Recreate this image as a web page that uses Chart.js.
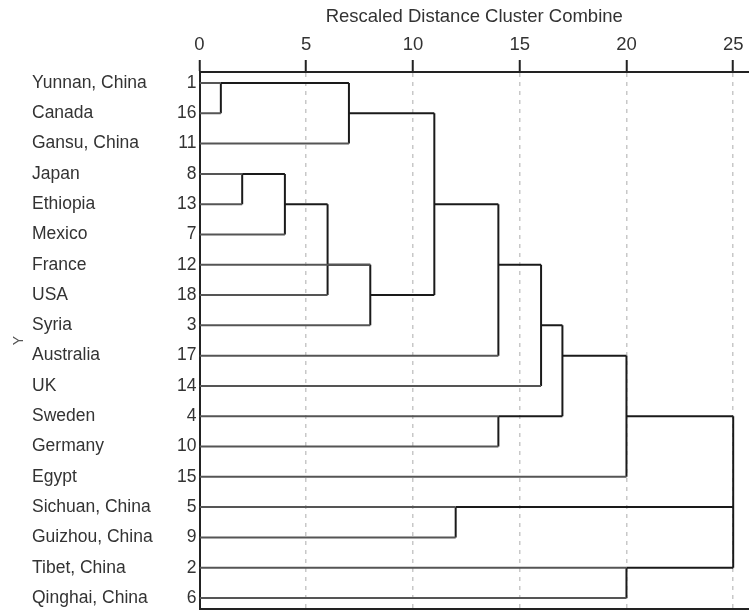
<!DOCTYPE html>
<html>
<head>
<meta charset="utf-8">
<title>Dendrogram</title>
<script src="https://cdn.jsdelivr.net/npm/chart.js@4"></script>
<style>
  html, body { margin: 0; padding: 0; background: #fff; }
  #wrap { width: 749px; height: 611px; position: relative; }
</style>
</head>
<body>
<div id="wrap"><canvas id="chart"></canvas></div>
<script>
// Leaves, top to bottom
const leafIds = ['1', '16', '11', '8', '13', '7', '12', '18', '3', '17', '14', '4', '10', '15', '5', '9', '2', '6'];
const leafNames = ['Yunnan, China', 'Canada', 'Gansu, China', 'Japan', 'Ethiopia', 'Mexico', 'France', 'USA', 'Syria',
  'Australia', 'UK', 'Sweden', 'Germany', 'Egypt', 'Sichuan, China', 'Guizhou, China', 'Tibet, China', 'Qinghai, China'];

// Merges: rescaled distance, the joined nodes (L = leaf row, M = earlier merge) and the row the new cluster is drawn on
const mergeHeights = [1, 7, 2, 4, 6, 8, 11, 14, 16, 14, 17, 20, 12, 20, 25];
const mergeChildren = [
  ['L0', 'L1'], ['M0', 'L2'], ['L3', 'L4'], ['M2', 'L5'], ['M3', 'L7'], ['M4', 'L6', 'L8'],
  ['M1', 'M5'], ['M6', 'L9'], ['M7', 'L10'], ['L11', 'L12'], ['M8', 'M9'], ['M10', 'L13'],
  ['L14', 'L15'], ['L16', 'L17'], ['M11', 'M12', 'M13']
];
const mergeRows = [0, 1, 3, 4, 6, 7, 4, 6, 8, 11, 9, 11, 14, 16, null];

const xTicks = [0, 5, 10, 15, 20, 25];

const FONT = 'Liberation Sans, Arial, sans-serif';
const TEXT = '#333';

function nodeOf(ref) {
  const i = parseInt(ref.slice(1), 10);
  if (ref[0] === 'L') return { row: i, h: 0, leaf: true };
  return { row: mergeRows[i], h: mergeHeights[i], leaf: false };
}

// Build the link segments from the merge table
const leafSegs = [];
const linkSegs = [];
mergeChildren.forEach((kids, i) => {
  const h = mergeHeights[i];
  const rows = [];
  kids.forEach(ref => {
    const n = nodeOf(ref);
    rows.push(n.row);
    (n.leaf ? leafSegs : linkSegs).push([{ x: n.h, y: n.row }, { x: h, y: n.row }]);
  });
  linkSegs.push([{ x: h, y: Math.min(...rows) }, { x: h, y: Math.max(...rows) }]);
});

function segDataset(seg, color) {
  return {
    data: seg,
    showLine: true,
    borderColor: color,
    borderWidth: 2,
    pointRadius: 0,
    fill: false
  };
}

const datasets = leafSegs.map(s => segDataset(s, '#555'))
  .concat(linkSegs.map(s => segDataset(s, '#1a1a1a')));

const rowMin = -0.363;
const rowMax = 17.363;

// fixed box size, and no extra room reserved for half labels
function fixWidth(w) {
  return s => {
    s.width = w;
    s.paddingTop = 0;
    s.paddingBottom = 0;
  };
}

new Chart(document.getElementById('chart'), {
  type: 'scatter',
  data: { datasets: datasets },
  options: {
    responsive: true,
    maintainAspectRatio: false,
    animation: false,
    layout: { padding: 0 },
    plugins: {
      legend: { display: false },
      tooltip: { enabled: false }
    },
    scales: {
      x: {
        type: 'linear',
        position: 'top',
        min: 0,
        max: 25.74,
        afterBuildTicks: s => { s.ticks = xTicks.map(v => ({ value: v })); },
        afterFit: s => { s.height = 72; s.paddingLeft = 0; s.paddingRight = 0; },
        ticks: {
          font: { family: FONT, size: 18.5 },
          color: TEXT,
          padding: 4
        },
        grid: {
          color: ctx => (ctx.tick && ctx.tick.value === 0) ? 'rgba(0,0,0,0)' : '#c8c8c8',
          lineWidth: 1.5,
          tickLength: 12,
          tickColor: '#222',
          tickWidth: 2
        },
        border: { display: true, color: '#222', width: 2, dash: [4, 5] },
        title: {
          display: true,
          text: 'Rescaled Distance Cluster Combine',
          font: { family: FONT, size: 18.5 },
          color: TEXT,
          padding: { top: 6, bottom: 0 }
        }
      },
      x2: {
        type: 'linear',
        position: 'bottom',
        min: 0,
        max: 25.74,
        afterFit: s => { s.height = 2; s.paddingLeft = 0; s.paddingRight = 0; },
        ticks: { display: false },
        grid: { display: false, drawTicks: false },
        border: { display: true, color: '#222', width: 2 }
      },
      y: {
        type: 'linear',
        position: 'left',
        weight: 1,
        reverse: true,
        min: rowMin,
        max: rowMax,
        afterBuildTicks: s => { s.ticks = leafIds.map((_, i) => ({ value: i })); },
        afterFit: fixWidth(29.5),
        ticks: {
          autoSkip: false,
          callback: v => leafIds[v],
          font: { family: FONT, size: 17.5 },
          color: TEXT,
          padding: 3
        },
        grid: { display: false, drawTicks: false, tickLength: 0 },
        border: { display: true, color: '#222', width: 2 }
      },
      yNames: {
        type: 'linear',
        position: 'left',
        weight: 2,
        reverse: true,
        min: rowMin,
        max: rowMax,
        afterBuildTicks: s => { s.ticks = leafNames.map((_, i) => ({ value: i })); },
        afterFit: fixWidth(138),
        ticks: {
          autoSkip: false,
          crossAlign: 'far',
          callback: v => leafNames[v],
          font: { family: FONT, size: 17.5 },
          color: TEXT,
          padding: 0
        },
        grid: { display: false, drawTicks: false, tickLength: 0 },
        border: { display: false }
      },
      yTitle: {
        type: 'linear',
        position: 'left',
        weight: 3,
        min: rowMin,
        max: rowMax,
        afterFit: fixWidth(32),
        ticks: { display: false },
        grid: { display: false, drawTicks: false },
        border: { display: false },
        title: {
          display: true,
          text: 'Y',
          font: { family: FONT, size: 14 },
          color: '#555',
          padding: { top: 11, bottom: 0 }
        }
      }
    }
  }
});
</script>
</body>
</html>
